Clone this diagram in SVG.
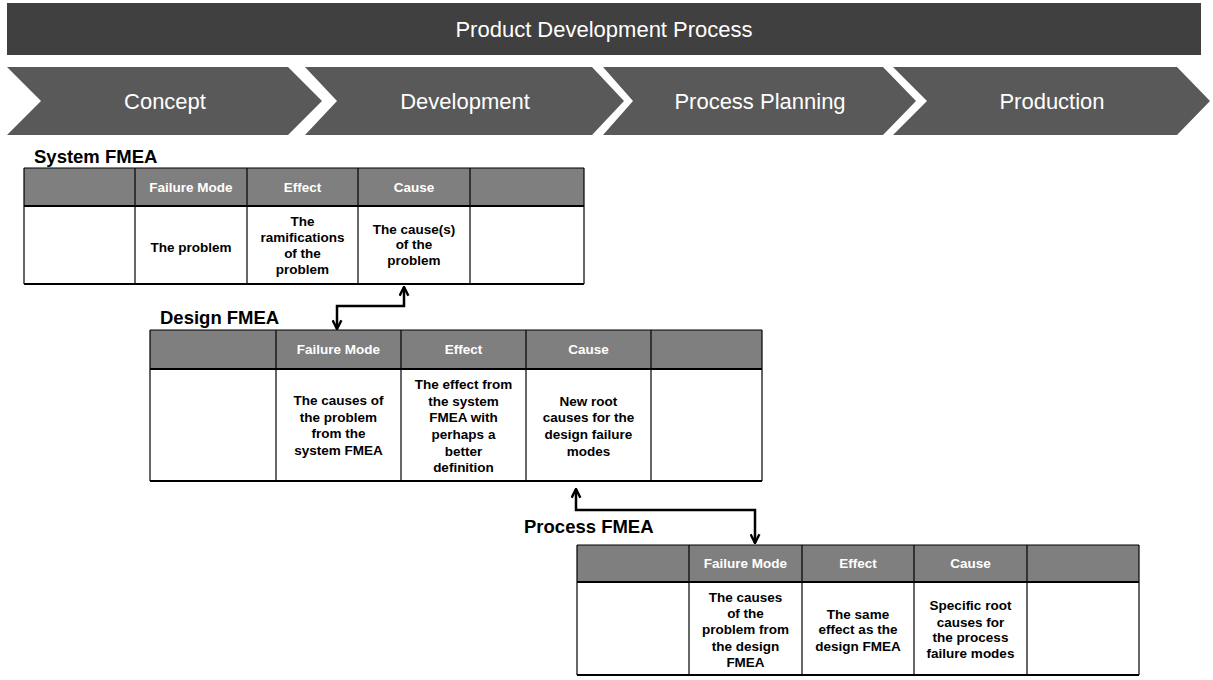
<svg xmlns="http://www.w3.org/2000/svg" width="1213" height="680" viewBox="0 0 1213 680">
<style>
.bg{fill:#ffffff}
.banner{fill:#404040}
.chev{fill:#595959}
.ttl{font-family:"Liberation Sans",Arial,sans-serif;font-size:22px;fill:#ffffff;text-anchor:middle}
.lbl{font-family:"Liberation Sans",Arial,sans-serif;font-size:18.5px;font-weight:bold;fill:#000000}
.hdr{fill:#7f7f7f}
.cell{fill:#ffffff}
.ln{stroke:#000000;stroke-width:1.2;fill:none}
.lnb{stroke:#000000;stroke-width:2;fill:none}
.ht{font-family:"Liberation Sans",Arial,sans-serif;font-size:13.5px;font-weight:bold;fill:#ffffff;text-anchor:middle}
.bt{font-family:"Liberation Sans",Arial,sans-serif;font-size:13.5px;font-weight:bold;fill:#000000;text-anchor:middle}
.conn{stroke:#000000;stroke-width:2.5;fill:none;marker-start:url(#ah);marker-end:url(#ah)}
</style>
<defs>
<marker id="ah" markerUnits="userSpaceOnUse" viewBox="0 0 10 10" refX="9" refY="5" markerWidth="11" markerHeight="11" orient="auto-start-reverse">
<path d="M1,1 L9,5 L1,9" fill="none" stroke="#000000" stroke-width="2.2"/>
</marker>
</defs>
<rect class="bg" x="0" y="0" width="1213" height="680"/>

<g id="banner">
<rect class="banner" x="7" y="3" width="1194" height="52"/>
<text class="ttl" x="604" y="37">Product Development Process</text>
</g>

<g id="phase-concept">
<polygon class="chev" points="7,67 288,67 322,101 288,135 7,135 41,101"/>
<text class="ttl" x="165" y="109">Concept</text>
</g>
<g id="phase-development">
<polygon class="chev" points="305,67 592,67 624,101 592,135 305,135 337,101"/>
<text class="ttl" x="465" y="109">Development</text>
</g>
<g id="phase-process-planning">
<polygon class="chev" points="603,67 883,67 916,101 883,135 603,135 633,101"/>
<text class="ttl" x="760" y="109">Process Planning</text>
</g>
<g id="phase-production">
<polygon class="chev" points="893,67 1177,67 1210,101 1177,135 893,135 927,101"/>
<text class="ttl" x="1052" y="109">Production</text>
</g>

<g id="system-fmea">
<text class="lbl" x="34" y="163">System FMEA</text>
<rect class="hdr" x="24" y="168" width="560" height="38"/>
<rect class="cell" x="24" y="206" width="560" height="78"/>
<line class="ln" x1="24" y1="168" x2="584" y2="168"/>
<line class="lnb" x1="24" y1="206" x2="584" y2="206"/>
<line class="lnb" x1="24" y1="284" x2="584" y2="284"/>
<line class="ln" x1="24" y1="168" x2="24" y2="284"/>
<line class="ln" x1="135" y1="168" x2="135" y2="284"/>
<line class="ln" x1="247" y1="168" x2="247" y2="284"/>
<line class="ln" x1="358" y1="168" x2="358" y2="284"/>
<line class="ln" x1="470" y1="168" x2="470" y2="284"/>
<line class="ln" x1="584" y1="168" x2="584" y2="284"/>
<text class="ht" x="191" y="192">Failure Mode</text>
<text class="ht" x="302.5" y="192">Effect</text>
<text class="ht" x="414" y="192">Cause</text>
<text class="bt" x="191" y="252">The problem</text>
<text class="bt" x="302.5" y="226">The</text>
<text class="bt" x="302.5" y="242">ramifications</text>
<text class="bt" x="302.5" y="258">of the</text>
<text class="bt" x="302.5" y="274">problem</text>
<text class="bt" x="414" y="234">The cause(s)</text>
<text class="bt" x="414" y="249">of the</text>
<text class="bt" x="414" y="265">problem</text>
</g>

<g id="design-fmea">
<text class="lbl" x="160" y="324">Design FMEA</text>
<rect class="hdr" x="150" y="330" width="612" height="39"/>
<rect class="cell" x="150" y="369" width="612" height="112"/>
<line class="ln" x1="150" y1="330" x2="762" y2="330"/>
<line class="lnb" x1="150" y1="369" x2="762" y2="369"/>
<line class="lnb" x1="150" y1="481" x2="762" y2="481"/>
<line class="ln" x1="150" y1="330" x2="150" y2="481"/>
<line class="ln" x1="276" y1="330" x2="276" y2="481"/>
<line class="ln" x1="401" y1="330" x2="401" y2="481"/>
<line class="ln" x1="526" y1="330" x2="526" y2="481"/>
<line class="ln" x1="651" y1="330" x2="651" y2="481"/>
<line class="ln" x1="762" y1="330" x2="762" y2="481"/>
<text class="ht" x="338.5" y="354">Failure Mode</text>
<text class="ht" x="463.5" y="354">Effect</text>
<text class="ht" x="588.5" y="354">Cause</text>
<text class="bt" x="338.5" y="405">The causes of</text>
<text class="bt" x="338.5" y="422">the problem</text>
<text class="bt" x="338.5" y="438">from the</text>
<text class="bt" x="338.5" y="455">system FMEA</text>
<text class="bt" x="463.5" y="389">The effect from</text>
<text class="bt" x="463.5" y="406">the system</text>
<text class="bt" x="463.5" y="422">FMEA with</text>
<text class="bt" x="463.5" y="439">perhaps a</text>
<text class="bt" x="463.5" y="456">better</text>
<text class="bt" x="463.5" y="472">definition</text>
<text class="bt" x="588.5" y="406">New root</text>
<text class="bt" x="588.5" y="422">causes for the</text>
<text class="bt" x="588.5" y="439">design failure</text>
<text class="bt" x="588.5" y="456">modes</text>
</g>

<g id="process-fmea">
<text class="lbl" x="524" y="533">Process FMEA</text>
<rect class="hdr" x="577" y="545" width="562" height="37"/>
<rect class="cell" x="577" y="582" width="562" height="93"/>
<line class="ln" x1="577" y1="545" x2="1139" y2="545"/>
<line class="lnb" x1="577" y1="582" x2="1139" y2="582"/>
<line class="lnb" x1="577" y1="675" x2="1139" y2="675"/>
<line class="ln" x1="577" y1="545" x2="577" y2="675"/>
<line class="ln" x1="689" y1="545" x2="689" y2="675"/>
<line class="ln" x1="802" y1="545" x2="802" y2="675"/>
<line class="ln" x1="914" y1="545" x2="914" y2="675"/>
<line class="ln" x1="1027" y1="545" x2="1027" y2="675"/>
<line class="ln" x1="1139" y1="545" x2="1139" y2="675"/>
<text class="ht" x="745.5" y="568">Failure Mode</text>
<text class="ht" x="858" y="568">Effect</text>
<text class="ht" x="970.5" y="568">Cause</text>
<text class="bt" x="745.5" y="602">The causes</text>
<text class="bt" x="745.5" y="618">of the</text>
<text class="bt" x="745.5" y="634">problem from</text>
<text class="bt" x="745.5" y="651">the design</text>
<text class="bt" x="745.5" y="667">FMEA</text>
<text class="bt" x="858" y="619">The same</text>
<text class="bt" x="858" y="634">effect as the</text>
<text class="bt" x="858" y="651">design FMEA</text>
<text class="bt" x="970.5" y="610">Specific root</text>
<text class="bt" x="970.5" y="627">causes for</text>
<text class="bt" x="970.5" y="642">the process</text>
<text class="bt" x="970.5" y="658">failure modes</text>
</g>

<g id="connectors">
<path class="conn" d="M404,287 L404,306 L337,306 L337,329"/>
<path class="conn" d="M576,489 L576,510 L755,510 L755,543"/>
</g>
</svg>
